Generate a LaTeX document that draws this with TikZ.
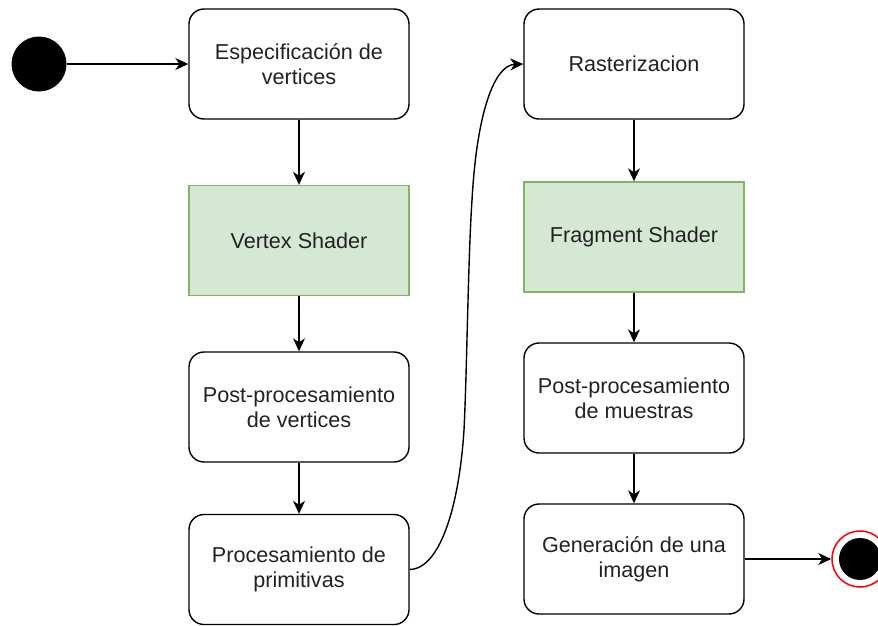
\documentclass[tikz,border=0pt]{standalone}
\usepackage{fontspec}
\setmainfont{Liberation Sans}
\usetikzlibrary{arrows.meta}
\definecolor{shadefill}{HTML}{D5E8D4}
\definecolor{shadeline}{HTML}{82B366}
\definecolor{txt}{HTML}{222222}
\begin{document}
\begin{tikzpicture}[x=1pt,y=-1pt,
  stagebox/.style={draw=black, line width=1.4pt, rounded corners=15pt, fill=white,
    minimum width=220pt, minimum height=110pt, inner sep=0pt, align=center,
    text=txt, font=\fontsize{21.6}{25}\selectfont},
  shaderbox/.style={stagebox, rounded corners=0pt, draw=shadeline, fill=shadefill},
  flow/.style={draw=black, line width=1.4pt,
    -{Stealth[length=13pt,width=12pt,inset=4pt]}}]
\useasboundingbox (0,0) rectangle (878,625);

% initial state
\node[circle, fill=black, minimum size=55pt, inner sep=0pt] (ini) at (39,64) {};

% left column: geometry stages
\node[stagebox]  (espec) at (299,64)    {Especificación de\\vertices};
\node[shaderbox] (vsh)   at (299,240.5) {Vertex Shader};
\node[stagebox]  (postv) at (299,407)   {Post-procesamiento\\de vertices};
\node[stagebox]  (prim)  at (299,569.5) {Procesamiento de\\primitivas};

% right column: fragment stages
\node[stagebox]  (rast)  at (634,64)    {Rasterizacion};
\node[shaderbox] (fsh)   at (634,237)   {Fragment Shader};
\node[stagebox]  (postm) at (634,398)   {Post-procesamiento\\de muestras};
\node[stagebox]  (gen)   at (634,559)   {Generación de una\\imagen};

% final state
\node[circle, draw=red, line width=1.5pt, fill=white, minimum size=56pt, inner sep=0pt] (fin) at (860,559) {};
\node[circle, fill=black, minimum size=42pt, inner sep=0pt] (finc) at (fin) {};

% connectors
\draw[flow] (ini) -- (espec);
\draw[flow] (espec) -- (vsh);
\draw[flow] (vsh) -- (postv);
\draw[flow] (postv) -- (prim);
\draw[flow] (prim.east) .. controls +(26,0) and (458,520) .. (464,430)
  .. controls (467,370) and (468,260) .. (472,200)
  .. controls (477,110) and (495,65) .. (rast.west);
\draw[flow] (rast) -- (fsh);
\draw[flow] (fsh) -- (postm);
\draw[flow] (postm) -- (gen);
\draw[flow] (gen) -- (fin);
\end{tikzpicture}
\end{document}
